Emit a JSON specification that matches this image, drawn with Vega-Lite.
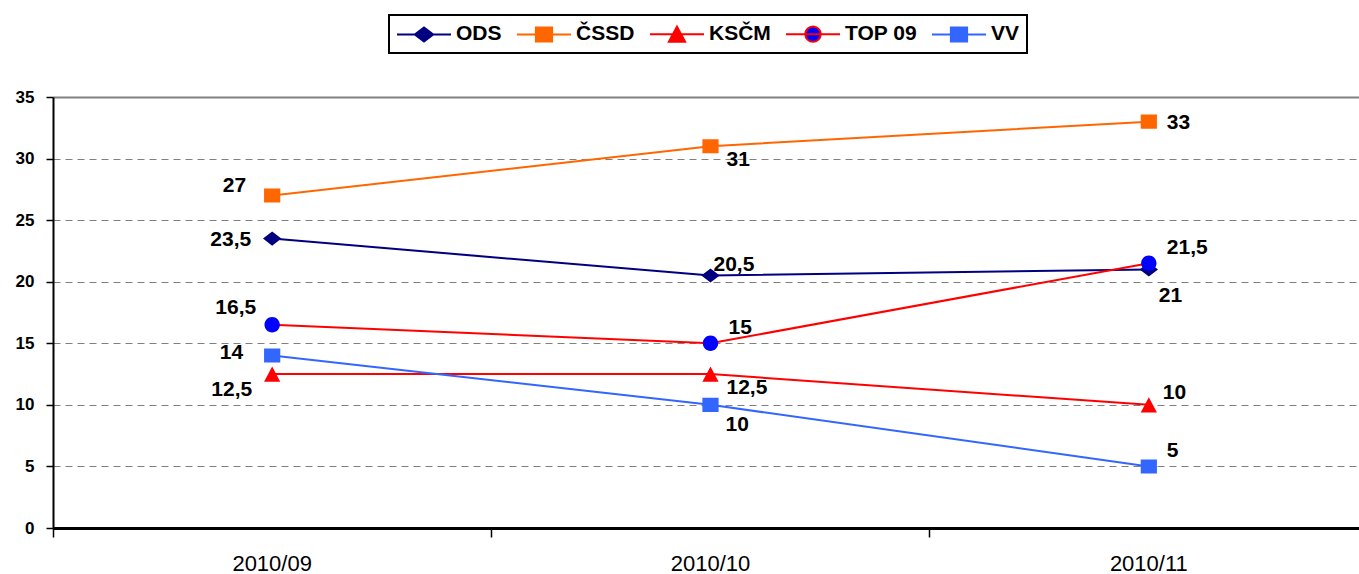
{
  "$schema": "https://vega.github.io/schema/vega-lite/v6.json",
  "width": 1306,
  "height": 431,
  "autosize": {"type": "none"},
  "padding": {"left": 53, "top": 97, "right": 0, "bottom": 46},
  "background": "white",
  "config": {
    "view": {"stroke": null},
    "font": "Liberation Sans",
    "locale": {"number": {"decimal": ",", "thousands": " ", "grouping": [3], "currency": ["", " Kč"]}}
  },
  "data": {"values": [
    {"month": "2010/09", "party": "ODS", "value": 23.5},
    {"month": "2010/09", "party": "ČSSD", "value": 27},
    {"month": "2010/09", "party": "KSČM", "value": 12.5},
    {"month": "2010/09", "party": "TOP 09", "value": 16.5},
    {"month": "2010/09", "party": "VV", "value": 14},
    {"month": "2010/10", "party": "ODS", "value": 20.5},
    {"month": "2010/10", "party": "ČSSD", "value": 31},
    {"month": "2010/10", "party": "KSČM", "value": 12.5},
    {"month": "2010/10", "party": "TOP 09", "value": 15},
    {"month": "2010/10", "party": "VV", "value": 10},
    {"month": "2010/11", "party": "ODS", "value": 21},
    {"month": "2010/11", "party": "ČSSD", "value": 33},
    {"month": "2010/11", "party": "KSČM", "value": 10},
    {"month": "2010/11", "party": "TOP 09", "value": 21.5},
    {"month": "2010/11", "party": "VV", "value": 5}
  ]},
  "encoding": {
    "x": {
      "field": "month", "type": "nominal", "sort": ["2010/09", "2010/10", "2010/11"],
      "scale": {"type": "band", "paddingInner": 0, "paddingOuter": 0, "range": [0, 1315]},
      "axis": {
        "title": null, "bandPosition": 0, "labelAngle": 0,
        "labelFont": "Liberation Sans", "labelFontSize": 22, "labelColor": "black", "labelPadding": 16,
        "tickSize": 9, "tickColor": "black", "tickWidth": 1.5,
        "domainColor": "black", "domainWidth": 3, "grid": false
      }
    },
    "y": {
      "field": "value", "type": "quantitative",
      "scale": {"domain": [0, 35], "nice": false},
      "axis": {
        "title": null, "values": [0, 5, 10, 15, 20, 25, 30, 35],
        "labelFont": "Liberation Sans", "labelFontSize": 17, "labelFontWeight": "bold", "labelColor": "black", "labelPadding": 12,
        "tickSize": 7, "tickColor": "black", "tickWidth": 1.5,
        "domainColor": "black", "domainWidth": 2,
        "grid": true, "gridColor": "#808080",
        "gridDash": {"condition": {"test": "datum.value === 35", "value": []}, "value": [7, 5]},
        "gridWidth": {"condition": {"test": "datum.value === 35", "value": 2}, "value": 1.2}
      }
    }
  },
  "layer": [
    {
      "mark": {"type": "line", "strokeWidth": 2},
      "encoding": {
        "stroke": {"field": "party", "type": "nominal",
          "scale": {"domain": ["ODS", "ČSSD", "KSČM", "TOP 09", "VV"], "range": ["#000080", "#FF6600", "#FF0000", "#FF0000", "#3366FF"]}}
      }
    },
    {
      "mark": {"type": "point", "filled": true, "size": 2916, "opacity": 1, "strokeWidth": 0},
      "encoding": {
        "fill": {"field": "party", "type": "nominal",
          "scale": {"domain": ["ODS", "ČSSD", "KSČM", "TOP 09", "VV"], "range": ["#000080", "#FF6600", "#FF0000", "#0000FF", "#3366FF"]},
          "legend": {
            "title": null, "orient": "none", "legendX": 336, "legendY": -82, "direction": "horizontal",
            "labelFont": "Liberation Sans", "labelFontSize": 21, "labelFontWeight": "bold", "labelColor": "black",
            "labelOffset": 4, "columnPadding": 11, "padding": 7,
            "strokeColor": "black", "fillColor": "white",
            "symbolSize": 2916, "symbolStrokeWidth": 1.5, "symbolOpacity": 1,
            "encode": {
              "symbols": {"update": {
                "y": {"value": 12},
                "shape": {"scale": "shape", "field": "value"},
                "stroke": {"scale": "stroke", "field": "value"},
                "fill": {"scale": "fill", "field": "value"},
                "strokeWidth": {"value": 2},
                "opacity": {"value": 1}
              }},
              "labels": {"update": {"y": {"value": 12}}},
              "legend": {"update": {"strokeWidth": {"value": 2}}}
            }
          }
        },
        "shape": {"field": "party", "type": "nominal",
          "scale": {"domain": ["ODS", "ČSSD", "KSČM", "TOP 09", "VV"], "range": [
            "M-1,0H1M-0.34,0L0,-0.26L0.34,0L0,0.26Z",
            "M-1,0H1M-0.3,-0.26H0.3V0.26H-0.3Z",
            "M-1,0H1M0,-0.28L0.3,0.28H-0.3Z",
            "M-1,0H1M-0.285,0A0.285,0.285 0 1,0 0.285,0A0.285,0.285 0 1,0 -0.285,0Z",
            "M-1,0H1M-0.3,-0.26H0.3V0.26H-0.3Z"
          ]}}
      }
    },
    {"transform": [{"filter": "datum.month === '2010/09' && datum.party === 'ČSSD'"}],
     "mark": {"type": "text", "align": "right", "baseline": "middle", "dx": -26, "dy": -10, "fontSize": 21, "fontWeight": "bold", "font": "Liberation Sans", "fill": "black"},
     "encoding": {"text": {"field": "value", "type": "quantitative", "format": "~g"}}},
    {"transform": [{"filter": "datum.month === '2010/09' && datum.party === 'ODS'"}],
     "mark": {"type": "text", "align": "right", "baseline": "middle", "dx": -21, "dy": 1, "fontSize": 21, "fontWeight": "bold", "font": "Liberation Sans", "fill": "black"},
     "encoding": {"text": {"field": "value", "type": "quantitative", "format": "~g"}}},
    {"transform": [{"filter": "datum.month === '2010/09' && datum.party === 'TOP 09'"}],
     "mark": {"type": "text", "align": "right", "baseline": "middle", "dx": -16, "dy": -17, "fontSize": 21, "fontWeight": "bold", "font": "Liberation Sans", "fill": "black"},
     "encoding": {"text": {"field": "value", "type": "quantitative", "format": "~g"}}},
    {"transform": [{"filter": "datum.month === '2010/09' && datum.party === 'VV'"}],
     "mark": {"type": "text", "align": "right", "baseline": "middle", "dx": -29, "dy": -3, "fontSize": 21, "fontWeight": "bold", "font": "Liberation Sans", "fill": "black"},
     "encoding": {"text": {"field": "value", "type": "quantitative", "format": "~g"}}},
    {"transform": [{"filter": "datum.month === '2010/09' && datum.party === 'KSČM'"}],
     "mark": {"type": "text", "align": "right", "baseline": "middle", "dx": -20, "dy": 16, "fontSize": 21, "fontWeight": "bold", "font": "Liberation Sans", "fill": "black"},
     "encoding": {"text": {"field": "value", "type": "quantitative", "format": "~g"}}},
    {"transform": [{"filter": "datum.month === '2010/10' && (datum.party === 'ČSSD' || datum.party === 'KSČM')"}],
     "mark": {"type": "text", "align": "left", "baseline": "middle", "dx": 16, "dy": 14, "fontSize": 21, "fontWeight": "bold", "font": "Liberation Sans", "fill": "black"},
     "encoding": {"text": {"field": "value", "type": "quantitative", "format": "~g"}}},
    {"transform": [{"filter": "datum.month === '2010/10' && datum.party === 'ODS'"}],
     "mark": {"type": "text", "align": "left", "baseline": "middle", "dx": 3, "dy": -11, "fontSize": 21, "fontWeight": "bold", "font": "Liberation Sans", "fill": "black"},
     "encoding": {"text": {"field": "value", "type": "quantitative", "format": "~g"}}},
    {"transform": [{"filter": "(datum.month === '2010/10' && datum.party === 'TOP 09') || (datum.month === '2010/11' && (datum.party === 'TOP 09' || datum.party === 'VV'))"}],
     "mark": {"type": "text", "align": "left", "baseline": "middle", "dx": 18, "dy": -15, "fontSize": 21, "fontWeight": "bold", "font": "Liberation Sans", "fill": "black"},
     "encoding": {"text": {"field": "value", "type": "quantitative", "format": "~g"}}},
    {"transform": [{"filter": "datum.month === '2010/10' && datum.party === 'VV'"}],
     "mark": {"type": "text", "align": "left", "baseline": "middle", "dx": 15, "dy": 20, "fontSize": 21, "fontWeight": "bold", "font": "Liberation Sans", "fill": "black"},
     "encoding": {"text": {"field": "value", "type": "quantitative", "format": "~g"}}},
    {"transform": [{"filter": "datum.month === '2010/11' && datum.party === 'ČSSD'"}],
     "mark": {"type": "text", "align": "left", "baseline": "middle", "dx": 18, "dy": 1, "fontSize": 21, "fontWeight": "bold", "font": "Liberation Sans", "fill": "black"},
     "encoding": {"text": {"field": "value", "type": "quantitative", "format": "~g"}}},
    {"transform": [{"filter": "datum.month === '2010/11' && datum.party === 'ODS'"}],
     "mark": {"type": "text", "align": "left", "baseline": "middle", "dx": 10, "dy": 27, "fontSize": 21, "fontWeight": "bold", "font": "Liberation Sans", "fill": "black"},
     "encoding": {"text": {"field": "value", "type": "quantitative", "format": "~g"}}},
    {"transform": [{"filter": "datum.month === '2010/11' && datum.party === 'KSČM'"}],
     "mark": {"type": "text", "align": "left", "baseline": "middle", "dx": 14, "dy": -12, "fontSize": 21, "fontWeight": "bold", "font": "Liberation Sans", "fill": "black"},
     "encoding": {"text": {"field": "value", "type": "quantitative", "format": "~g"}}}
  ]
}
